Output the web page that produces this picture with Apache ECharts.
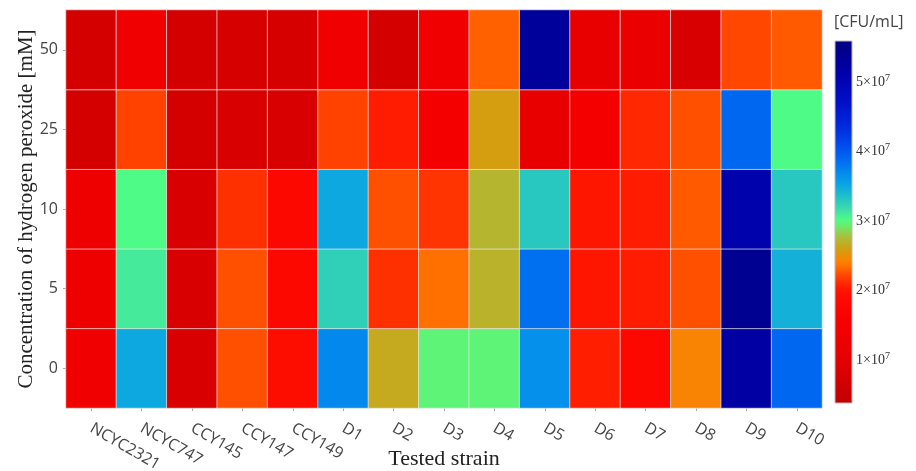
<!DOCTYPE html>
<html><head><meta charset="utf-8">
<script src="https://cdn.jsdelivr.net/npm/echarts@6/dist/echarts.min.js"></script>
<style>html,body{margin:0;padding:0;background:#fff}#c{width:916px;height:471px}</style>
</head><body><div id="c"></div>
<script>
// ---- data ----
const strains = ['NCYC2321','NCYC747','CCY145','CCY147','CCY149','D1','D2','D3','D4','D5','D6','D7','D8','D9','D10'];
const concentrations = ['0','5','10','25','50'];
// CFU/mL per concentration, in strain order
const cfu_0  = [1.4e7, 3.5e7, 0.8e7, 2.25e7, 1.9e7, 3.7e7, 2.65e7, 2.97e7, 2.97e7, 3.65e7, 2.06e7, 1.8e7, 2.42e7, 5.2e7, 3.9e7];
const cfu_5  = [1.3e7, 3.1e7, 0.8e7, 2.25e7, 1.8e7, 3.25e7, 2.13e7, 2.35e7, 2.7e7, 3.85e7, 2.02e7, 2.05e7, 2.25e7, 5.4e7, 3.45e7];
const cfu_10 = [1.3e7, 3.02e7, 0.8e7, 2.13e7, 1.8e7, 3.5e7, 2.25e7, 2.15e7, 2.72e7, 3.3e7, 2.02e7, 2.05e7, 2.28e7, 5.1e7, 3.3e7];
const cfu_25 = [0.73e7, 2.2e7, 0.73e7, 0.8e7, 0.8e7, 2.2e7, 2.05e7, 1.5e7, 2.58e7, 1.1e7, 1.5e7, 2.1e7, 2.25e7, 3.9e7, 3.02e7];
const cfu_50 = [0.73e7, 1.4e7, 0.73e7, 0.78e7, 0.78e7, 1.4e7, 0.73e7, 1.4e7, 2.3e7, 5.3e7, 1.1e7, 1.2e7, 0.8e7, 2.22e7, 2.28e7];
const rows = [cfu_0, cfu_5, cfu_10, cfu_25, cfu_50];
const cbMin = 0.38e7, cbMax = 5.59e7;
const cbTicks = [1e7, 2e7, 3e7, 4e7, 5e7];

// ---- colour scale (value in 1e7, colour) ----
const colorStops = [
  [0.38,'#c00000'],[1.0,'#e40000'],[1.6,'#f80000'],[2.0,'#ff1000'],[2.2,'#ff4000'],
  [2.4,'#ff8000'],[2.6,'#d0a010'],[2.78,'#a8c040'],[3.0,'#50ff80'],[3.15,'#40e0a8'],
  [3.35,'#20c0c8'],[3.55,'#08a0e8'],[3.8,'#0078f0'],[4.0,'#0058f0'],[4.3,'#0030e0'],
  [4.7,'#0010c8'],[5.15,'#0000a8'],[5.59,'#000080']
];
function hex(c){return [1,3,5].map(i=>parseInt(c.substr(i,2),16));}
function sample(v){
  for(let i=0;i<colorStops.length-1;i++){
    const [a,ca]=colorStops[i],[b,cb]=colorStops[i+1];
    if(v<=b){const t=(v-a)/(b-a);const A=hex(ca),B=hex(cb);
      return 'rgb('+A.map((x,k)=>Math.round(x+(B[k]-x)*t)).join(',')+')';}
  }
  return colorStops[colorStops.length-1][1];
}
const N=80, scaleColors=[];
for(let i=0;i<N;i++){scaleColors.push(sample((cbMin+(cbMax-cbMin)*i/(N-1))/1e7));}
const gradStops = scaleColors.map((c,i)=>({offset:i/(N-1),color:c}));

const heatData=[];
rows.forEach((r,i)=>r.forEach((v,j)=>heatData.push([j,i,v])));

const sans='"Open Sans", sans-serif', serif='"Liberation Serif", "Times New Roman", serif';
const chart=echarts.init(document.getElementById('c'));
chart.setOption({
  animation:false,
  title:{text:'[CFU/mL]',left:834,top:14,padding:0,textStyle:{fontFamily:sans,fontSize:16,fontWeight:'normal',color:'#444'}},
  grid:[{left:66,top:10,width:756,height:398,outerBoundsMode:'none',containLabel:false},
        {left:835,top:41,width:17,height:362,outerBoundsMode:'none',containLabel:false}],
  xAxis:[{type:'category',data:strains,gridIndex:0,
      axisLine:{show:false},axisTick:{show:true,alignWithLabel:true,length:3,lineStyle:{color:'#aaa'}},
      axisLabel:{rotate:-30,interval:0,fontFamily:sans,fontSize:16,color:'#444',margin:19},
      name:'Tested strain',nameLocation:'middle',nameGap:40,nameMoveOverlap:false,
      nameTextStyle:{fontFamily:serif,fontSize:22,color:'#222'}},
    {type:'category',data:['cb'],gridIndex:1,show:false}],
  yAxis:[{type:'category',data:concentrations,gridIndex:0,
      axisLine:{show:false},axisTick:{show:true,alignWithLabel:true,length:3,lineStyle:{color:'#aaa'}},
      axisLabel:{fontFamily:sans,fontSize:16,color:'#444',margin:8},
      name:'Concentration of hydrogen peroxide [mM]',nameLocation:'middle',nameGap:29,nameMoveOverlap:false,
      nameTextStyle:{fontFamily:serif,fontSize:21,color:'#222'}},
    {type:'value',gridIndex:1,min:cbMin,max:cbMax,position:'right',
      axisLine:{show:false},axisTick:{show:false},splitLine:{show:false},
      axisLabel:{customValues:cbTicks,margin:4,
        formatter:v=>'{b|'+Math.round(v/1e7)+'×10}{s|7}',
        rich:{b:{fontFamily:serif,fontSize:14,color:'#333'},s:{fontFamily:serif,fontSize:10,color:'#333',verticalAlign:'top',padding:[0,0,8,0]}}}}],
  visualMap:{type:'continuous',show:false,min:cbMin,max:cbMax,seriesIndex:0,inRange:{color:scaleColors}},
  series:[{type:'heatmap',data:heatData,xAxisIndex:0,yAxisIndex:0,
      itemStyle:{borderColor:'rgba(235,235,235,0.7)',borderWidth:1}},
    {type:'custom',xAxisIndex:1,yAxisIndex:1,data:[[0,cbMax]],silent:true,
      renderItem:(params,api)=>{
        const p0=api.coord([0,cbMin]),p1=api.coord([0,cbMax]),w=api.size([1,0])[0];
        return {type:'rect',shape:{x:p0[0]-w/2,y:p1[1],width:w,height:p0[1]-p1[1]},
          style:{fill:new echarts.graphic.LinearGradient(0,1,0,0,gradStops),stroke:'#bbb',lineWidth:1}};
      }}]
});
</script></body></html>
